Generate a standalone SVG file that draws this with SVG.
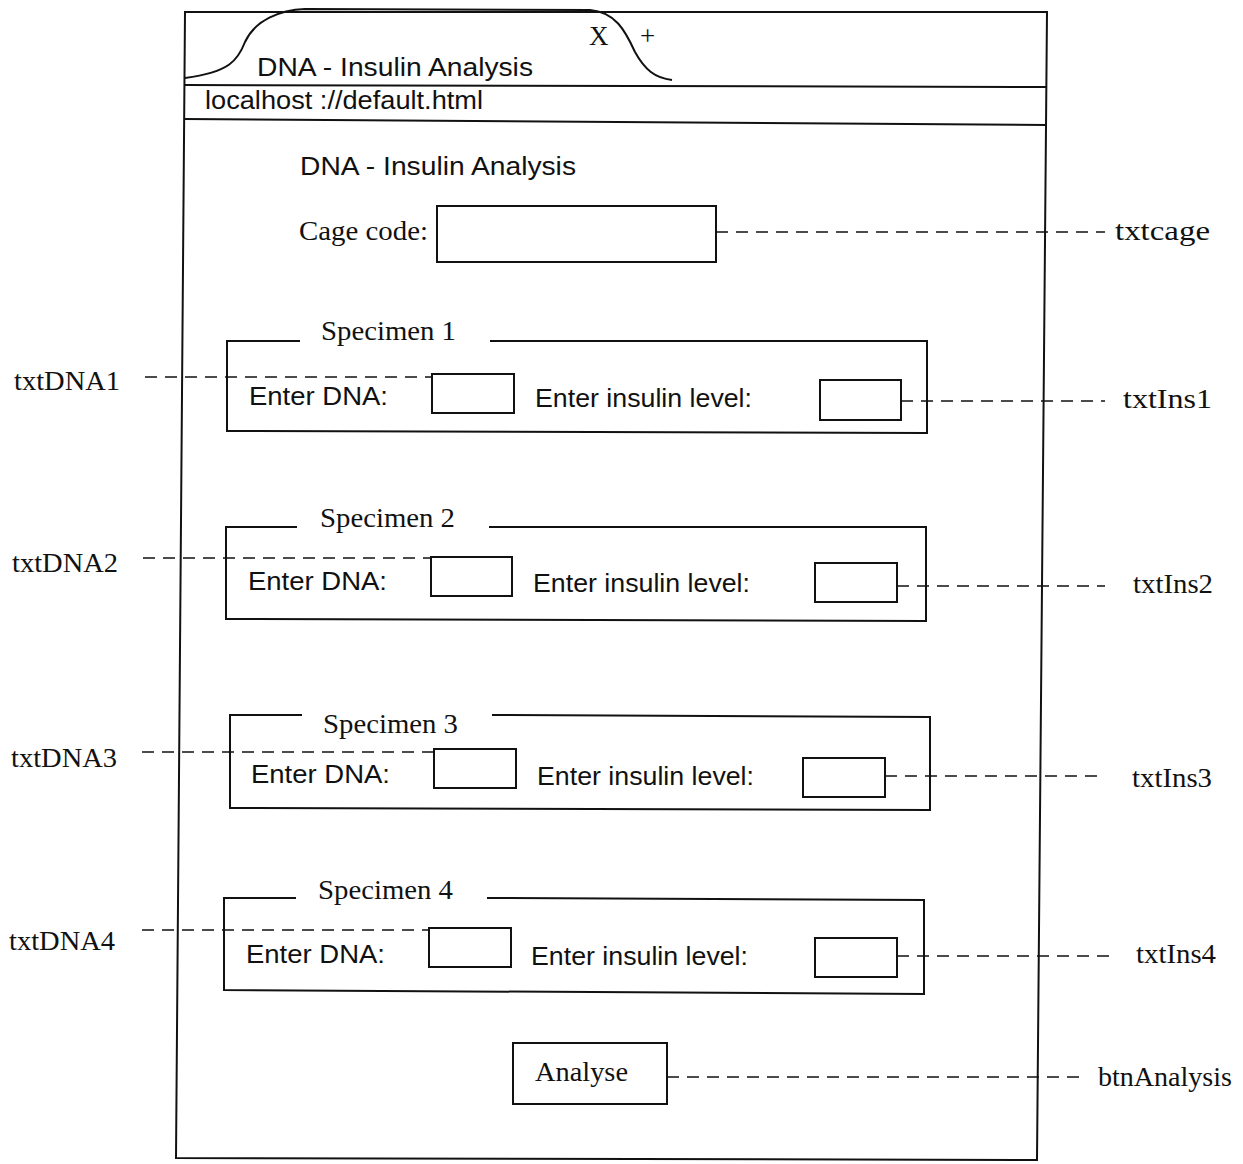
<svg xmlns="http://www.w3.org/2000/svg" width="1243" height="1164" viewBox="0 0 1243 1164">
<style>
.ln{fill:none;stroke:#111;stroke-width:2}
.bx{fill:#fff;stroke:#111;stroke-width:2}
.ds{fill:none;stroke:#111;stroke-width:1.6;stroke-dasharray:12 8}
.s{font-family:"Liberation Sans",Arial,sans-serif;font-size:25px;fill:#111}
.t{font-family:"Liberation Serif","Times New Roman",serif;font-size:27px;fill:#111}
</style>
<rect width="1243" height="1164" fill="#fff"/>
<g id="window">
<polygon class="ln" points="185,12 1047,12 1037,1160 176,1158"/>
<path class="ln" d="M185,78 C230,72 238,60 245,42 C255,20 280,10 305,9 L590,10 C615,12 625,30 635,52 C645,70 655,78 672,80"/>
<line class="ln" x1="185" y1="85" x2="1047" y2="87"/>
<line class="ln" x1="184" y1="119" x2="1047" y2="125"/>
<text class="s" x="257" y="76" textLength="276" lengthAdjust="spacingAndGlyphs">DNA - Insulin Analysis</text>
<text class="t" x="589" y="45" font-size="24">X</text>
<text class="t" x="640" y="45" font-size="22">+</text>
<text class="s" x="205" y="109" textLength="278" lengthAdjust="spacingAndGlyphs">localhost ://default.html</text>
<text class="s" x="300" y="175" textLength="276" lengthAdjust="spacingAndGlyphs">DNA - Insulin Analysis</text>
</g>
<g id="cage">
<text class="t" x="299" y="240" textLength="129" lengthAdjust="spacingAndGlyphs">Cage code:</text>
<rect class="bx" x="437" y="206" width="279" height="56"/>
</g>
<g id="specimen1">
<polyline class="ln" points="300,341 227,341 227,431 927,433 927,341 490,341"/>
<text class="t" x="321" y="340" textLength="135" lengthAdjust="spacingAndGlyphs">Specimen 1</text>
<text class="s" x="249" y="405" textLength="139" lengthAdjust="spacingAndGlyphs">Enter DNA:</text>
<rect class="bx" x="432" y="374" width="82" height="39"/>
<text class="s" x="535" y="407" textLength="217" lengthAdjust="spacingAndGlyphs">Enter insulin level:</text>
<rect class="bx" x="820" y="380" width="81" height="40"/>
</g>
<g id="specimen2">
<polyline class="ln" points="297,527 226,527 226,619 926,621 926,527 489,527"/>
<text class="t" x="320" y="527" textLength="135" lengthAdjust="spacingAndGlyphs">Specimen 2</text>
<text class="s" x="248" y="590" textLength="139" lengthAdjust="spacingAndGlyphs">Enter DNA:</text>
<rect class="bx" x="431" y="557" width="81" height="39"/>
<text class="s" x="533" y="592" textLength="217" lengthAdjust="spacingAndGlyphs">Enter insulin level:</text>
<rect class="bx" x="815" y="563" width="82" height="39"/>
</g>
<g id="specimen3">
<polyline class="ln" points="302,715 230,715 230,808 930,810 930,717 492,715"/>
<text class="t" x="323" y="733" textLength="135" lengthAdjust="spacingAndGlyphs">Specimen 3</text>
<text class="s" x="251" y="783" textLength="139" lengthAdjust="spacingAndGlyphs">Enter DNA:</text>
<rect class="bx" x="434" y="749" width="82" height="39"/>
<text class="s" x="537" y="785" textLength="217" lengthAdjust="spacingAndGlyphs">Enter insulin level:</text>
<rect class="bx" x="803" y="758" width="82" height="39"/>
</g>
<g id="specimen4">
<polyline class="ln" points="296,898 224,898 224,990 924,994 924,900 487,898"/>
<text class="t" x="318" y="899" textLength="135" lengthAdjust="spacingAndGlyphs">Specimen 4</text>
<text class="s" x="246" y="963" textLength="139" lengthAdjust="spacingAndGlyphs">Enter DNA:</text>
<rect class="bx" x="429" y="928" width="82" height="39"/>
<text class="s" x="531" y="965" textLength="217" lengthAdjust="spacingAndGlyphs">Enter insulin level:</text>
<rect class="bx" x="815" y="938" width="82" height="39"/>
</g>
<g id="analyse">
<rect class="bx" x="513" y="1043" width="154" height="61"/>
<text class="t" x="535" y="1081" textLength="93" lengthAdjust="spacingAndGlyphs">Analyse</text>
</g>
<g id="connectors">
<line class="ds" x1="716" y1="232" x2="1105" y2="232"/>
<line class="ds" x1="145" y1="377" x2="432" y2="377"/>
<line class="ds" x1="901" y1="401" x2="1105" y2="401"/>
<line class="ds" x1="143" y1="558" x2="431" y2="558"/>
<line class="ds" x1="897" y1="586" x2="1105" y2="586"/>
<line class="ds" x1="142" y1="752" x2="434" y2="752"/>
<line class="ds" x1="885" y1="776" x2="1105" y2="776"/>
<line class="ds" x1="142" y1="930" x2="429" y2="930"/>
<line class="ds" x1="897" y1="956" x2="1115" y2="956"/>
<line class="ds" x1="667" y1="1077" x2="1085" y2="1077"/>
</g>
<g id="labels">
<text class="t" x="1115" y="240" textLength="95" lengthAdjust="spacingAndGlyphs">txtcage</text>
<text class="t" x="14" y="390" textLength="106" lengthAdjust="spacingAndGlyphs">txtDNA1</text>
<text class="t" x="1123" y="408" textLength="89" lengthAdjust="spacingAndGlyphs">txtIns1</text>
<text class="t" x="12" y="572" textLength="106" lengthAdjust="spacingAndGlyphs">txtDNA2</text>
<text class="t" x="1133" y="593" textLength="80" lengthAdjust="spacingAndGlyphs">txtIns2</text>
<text class="t" x="11" y="767" textLength="106" lengthAdjust="spacingAndGlyphs">txtDNA3</text>
<text class="t" x="1132" y="787" textLength="80" lengthAdjust="spacingAndGlyphs">txtIns3</text>
<text class="t" x="9" y="950" textLength="106" lengthAdjust="spacingAndGlyphs">txtDNA4</text>
<text class="t" x="1136" y="963" textLength="80" lengthAdjust="spacingAndGlyphs">txtIns4</text>
<text class="t" x="1098" y="1086" textLength="134" lengthAdjust="spacingAndGlyphs">btnAnalysis</text>
</g>
</svg>
